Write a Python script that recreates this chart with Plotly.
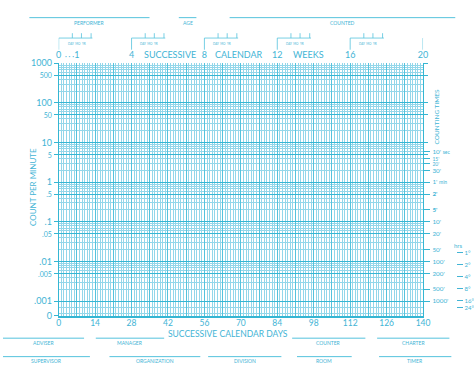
import plotly.graph_objects as go

W, H = 474, 383
def px(x): return x / W
def py(y): return 1 - y / H

TXT = "#42b4d5"
HEAVY = "#35b6d3"
MID = "#55c3dd"
LIGHT = "#93d7ea"
FONT = "Lato"

# ---- data / scales ----
days_ticks = list(range(0, 141, 7))
day_labels = [str(d) if d % 14 == 0 else "" for d in days_ticks]
week_ticks = [0, 1, 4, 8, 12, 16, 20]
week_labels = ["0", "1", "4", "8", "12", "16", "20"]
count_major = [1000, 500, 100, 50, 10, 5, 1, 0.5, 0.1, 0.05, 0.01, 0.005, 0.001]
count_labels = ["1000", "500", "100", "50", "10", "5", "1", ".5", ".1", ".05", ".01", ".005", ".001"]
small_labels = {"500", "50", "5", ".5", ".05", ".005"}
ZERO = 10 ** -3.37
count_minor = [m * 10 ** k for k in range(-3, 3) for m in (2, 3, 4, 6, 7, 8, 9)] + [0.0007, 0.0005]
ct_vals = [6, 4, 3, 2, 1, 0.5, 0.2, 0.1, 0.05, 0.02, 0.01, 0.005, 0.002, 0.001]
ct_labels = ["10' <span style='font-size:5px'>sec</span>", "<span style='font-size:5px'>15'</span>",
             "<span style='font-size:5px'>20'</span>", "30'",
             "1' <span style='font-size:5px'>min</span>", "<b>2'</b>", "<b>5'</b>", "10'", "20'", "50'",
             "100'", "200'", "500'", "1000'"]
hour_vals = [1 / 60, 1 / 120, 1 / 240, 1 / 480, 1 / 960, 1 / 1440]
hour_labels = ["1°", "2°", "4°", "8°", "16°", "24°"]
top_words = [("SUCCESSIVE", 6.1), ("CALENDAR", 9.9), ("WEEKS", 13.7)]

yr = [-3.37, 3.0]

ticktext_left = [f"<span style='font-size:7px'>{t}</span>" if t in small_labels else t for t in count_labels]

fig = go.Figure()
inv = dict(mode="markers", marker=dict(opacity=0), hoverinfo="skip", showlegend=False)
fig.add_trace(go.Scatter(x=[0], y=[1], xaxis="x", yaxis="y", **inv))
fig.add_trace(go.Scatter(x=[0], y=[1], xaxis="x2", yaxis="y", **inv))
fig.add_trace(go.Scatter(x=[0], y=[1], xaxis="x", yaxis="y2", **inv))
fig.add_trace(go.Scatter(x=[0], y=[1], xaxis="x", yaxis="y3", **inv))

fig.update_layout(
    width=W, height=H, margin=dict(l=0, r=0, t=0, b=0),
    paper_bgcolor="white", plot_bgcolor="white",
    font=dict(family=FONT, color=TXT),
    xaxis=dict(range=[0, 140], domain=[px(57), px(430)], tickvals=days_ticks, ticktext=day_labels,
               ticks="", showgrid=True, gridcolor=MID, gridwidth=1,
               minor=dict(dtick=1, tick0=0, showgrid=True, gridcolor=LIGHT, gridwidth=0.6),
               showline=True, linecolor=HEAVY, linewidth=1.6, zeroline=False, ticklabelstandoff=-2,
               tickfont=dict(size=8.5, color=TXT), anchor="y"),
    xaxis2=dict(range=[0, 20], overlaying="x", side="top", anchor="y", tickvals=week_ticks,
                ticktext=week_labels, ticks="", showgrid=False, zeroline=False, ticklabelstandoff=3,
                tickfont=dict(size=9, color=TXT)),
    yaxis=dict(type="log", range=yr, domain=[py(319), py(59)], tickvals=count_major + [ZERO],
               ticktext=ticktext_left + ["0"], ticks="outside", ticklen=4, tickcolor=HEAVY,
               showgrid=True, gridcolor=HEAVY, gridwidth=1.2,
               minor=dict(tickvals=count_minor, showgrid=True, gridcolor=LIGHT, gridwidth=0.6, ticks=""),
               showline=True, linecolor=HEAVY, linewidth=1, zeroline=False,
               tickfont=dict(size=9, color=TXT), anchor="x"),
    yaxis2=dict(type="log", range=yr, overlaying="y", side="right", anchor="x",
                tickvals=ct_vals, ticktext=ct_labels, ticks="outside", ticklen=6, tickcolor=HEAVY,
                minor=dict(tickvals=count_major, ticks="outside", ticklen=4, tickcolor=HEAVY, showgrid=False),
                showgrid=False, showline=True, linecolor=HEAVY, linewidth=1.4, zeroline=False,
                ticklabelstandoff=1, tickfont=dict(size=6.3, color=TXT)),
    yaxis3=dict(type="log", range=yr, overlaying="y", side="right", anchor="free", position=px(464),
                tickvals=hour_vals, ticktext=hour_labels, ticks="outside", ticklen=6, tickcolor=TXT,
                showgrid=False, showline=False, zeroline=False,
                tickfont=dict(size=6, color=TXT)),
)

ann = []
def A(text, x, y, size, xref="paper", angle=0, xanchor="center"):
    ann.append(dict(text=text, x=x if xref != "paper" else px(x), y=py(y), xref=xref, yref="paper",
                    showarrow=False, font=dict(size=size, color=TXT, family=FONT), textangle=angle,
                    xanchor=xanchor, yanchor="middle"))

for word, wk in top_words:
    A(word, wk, 50, 9, xref="x2")
A("· · ·", 4.2, 51, 7, xref="x")
A("SUCCESSIVE CALENDAR DAYS", 230, 338, 8.5)
A("COUNT PER MINUTE", 30, 186, 8, angle=-90)
A("COUNTING TIMES", 444, 114, 6.5, angle=-90)
A("hrs", 466, 247, 6)

shapes = []
def L(x0, y0, x1, y1, w=1.0, color=HEAVY):
    shapes.append(dict(type="line", xref="paper", yref="paper", x0=px(x0), x1=px(x1), y0=py(y0), y1=py(y1),
                       line=dict(color=color, width=w)))

# form fields
fields = [("PERFORMER", 27, 150, 12), ("AGE", 180, 198, 12), ("COUNTED", 232, 463, 12),
          ("ADVISER", 0, 83, 342), ("MANAGER", 95, 165, 342), ("COUNTER", 296, 371, 342), ("CHARTER", 383, 457, 342),
          ("SUPERVISOR", 0, 89, 361), ("ORGANIZATION", 109, 202, 361), ("DIVISION", 210, 285, 361),
          ("ROOM", 301, 357, 361), ("TIMER", 385, 459, 361)]
for name, x0, x1, y in fields:
    L(x0, y, x1, y, 1.0, MID)
    A(name, (x0 + x1) / 2, y + 5, 5)

# day/mo/yr brackets above each 4-week mark
for wk in [0, 4, 8, 12, 16, 20]:
    for (a, b, c, d) in [(0, 45, 0, 33), (0, 33, 1.85, 33), (0.75, 33, 0.75, 28), (1.25, 33, 1.25, 28), (1.78, 33, 1.78, 28)]:
        shapes.append(dict(type="line", xref="x2", yref="paper", x0=wk + a, x1=wk + c, y0=py(b), y1=py(d),
                           line=dict(color=MID, width=0.8)))
    ann.append(dict(text="DAY  MO  YR", x=wk + 0.98, y=py(35.5), xref="x2", yref="paper", showarrow=False,
                    font=dict(size=3, color=TXT, family=FONT)))

fig.update_layout(annotations=ann, shapes=shapes)
fig.write_html("out.html")
